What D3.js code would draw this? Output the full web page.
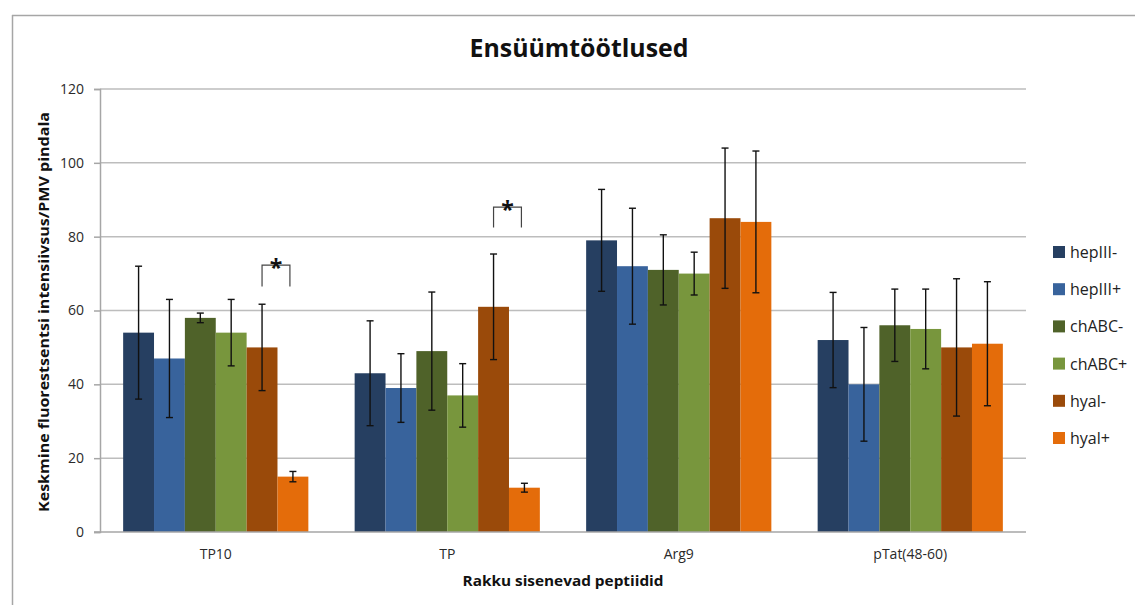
<!DOCTYPE html>
<html>
<head>
<meta charset="utf-8">
<script src="https://cdn.jsdelivr.net/npm/d3@7"></script>
<style>
  html, body { margin: 0; padding: 0; background: #fff; }
  svg { display: block; font-family: "Open Sans", "Noto Sans", sans-serif; }
</style>
</head>
<body>
<svg id="chart" width="1135" height="605"></svg>
<script>
// ---- data ----
const title = "Ensüümtöötlused";
const xTitle = "Rakku sisenevad peptiidid";
const yTitle = "Keskmine fluorestsentsi intensiivsus/PMV pindala";
const categories = ["TP10", "TP", "Arg9", "pTat(48-60)"];
const seriesNames = ["hepIII-", "hepIII+", "chABC-", "chABC+", "hyal-", "hyal+"];
const seriesColors = ["#263f61", "#38639c", "#4f6229", "#78963d", "#9a4a0a", "#e46c0a"];
const hepIIIminus = [54, 43, 79, 52];
const hepIIIplus  = [47, 39, 72, 40];
const chABCminus  = [58, 49, 71, 56];
const chABCplus   = [54, 37, 70, 55];
const hyalMinus   = [50, 61, 85, 50];
const hyalPlus    = [15, 12, 84, 51];
const errHepIIIminus = [18, 14.2, 13.8, 12.9];
const errHepIIIplus  = [16, 9.3, 15.7, 15.4];
const errChABCminus  = [1.3, 16, 9.5, 9.8];
const errChABCplus   = [9, 8.6, 5.8, 10.8];
const errHyalMinus   = [11.7, 14.3, 19, 18.6];
const errHyalPlus    = [1.4, 1.2, 19.2, 16.8];
const yTicks = [0, 20, 40, 60, 80, 100, 120];
// significance brackets: category, top value, leg-bottom value
const sigCategories = ["TP10", "TP"];
const sigTop = [72.3, 88];
const sigLegBottom = [66.5, 82.5];

const values = [hepIIIminus, hepIIIplus, chABCminus, chABCplus, hyalMinus, hyalPlus];
const errors = [errHepIIIminus, errHepIIIplus, errChABCminus, errChABCplus, errHyalMinus, errHyalPlus];

// ---- layout ----
const svg = d3.select("#chart");
const plot = { left: 100, right: 1026, top: 89, bottom: 532 };

// frame (top & left border of chart area)
svg.append("line").attr("x1", 12).attr("x2", 1135).attr("y1", 15.5).attr("y2", 15.5)
  .attr("stroke", "#a6a6a6").attr("stroke-width", 1.5);
svg.append("line").attr("x1", 12.5).attr("x2", 12.5).attr("y1", 15).attr("y2", 605)
  .attr("stroke", "#a6a6a6").attr("stroke-width", 1.5);

const x0 = d3.scaleBand().domain(categories).range([plot.left, plot.right]).paddingInner(0.2).paddingOuter(0.1);
const x1 = d3.scaleBand().domain(seriesNames).range([0, x0.bandwidth()]).padding(0);
const y = d3.scaleLinear().domain([0, 120]).range([plot.bottom, plot.top]);

// gridlines
svg.append("g").selectAll("line").data(yTicks.filter(t => t > 0)).join("line")
  .attr("x1", plot.left).attr("x2", plot.right)
  .attr("y1", d => y(d)).attr("y2", d => y(d))
  .attr("stroke", "#bdbdbd").attr("stroke-width", 1.5);

// y axis
const yAxis = svg.append("g").attr("transform", `translate(${plot.left},0)`)
  .call(d3.axisLeft(y).tickValues(yTicks).tickSize(6).tickPadding(10));
yAxis.select(".domain").attr("stroke", "#a6a6a6").attr("stroke-width", 1.5);
yAxis.selectAll(".tick line").attr("stroke", "#a6a6a6").attr("stroke-width", 1.5);
yAxis.selectAll(".tick text").attr("font-size", 14).attr("fill", "#2a2a2a")
  .attr("font-family", "'Open Sans', sans-serif");

// bars
const groups = svg.append("g").selectAll("g").data(categories).join("g")
  .attr("transform", d => `translate(${x0(d)},0)`);

groups.selectAll("rect").data((c, ci) => seriesNames.map((s, si) => ({ s, si, v: values[si][ci] })))
  .join("rect")
  .attr("x", d => x1(d.s)).attr("width", x1.bandwidth())
  .attr("y", d => y(d.v)).attr("height", d => y(0) - y(d.v))
  .attr("fill", d => seriesColors[d.si]);

// error bars
const capW = 3.5;
groups.each(function (c, ci) {
  const g = d3.select(this);
  seriesNames.forEach((s, si) => {
    const cx = x1(s) + x1.bandwidth() / 2;
    const v = values[si][ci], e = errors[si][ci];
    const eg = g.append("g").attr("stroke", "#111").attr("stroke-width", 1.4);
    eg.append("line").attr("x1", cx).attr("x2", cx).attr("y1", y(v + e)).attr("y2", y(v - e));
    eg.append("line").attr("x1", cx - capW).attr("x2", cx + capW).attr("y1", y(v + e)).attr("y2", y(v + e));
    eg.append("line").attr("x1", cx - capW).attr("x2", cx + capW).attr("y1", y(v - e)).attr("y2", y(v - e));
  });
});

// x axis line
svg.append("line").attr("x1", plot.left - 6).attr("x2", plot.right)
  .attr("y1", y(0)).attr("y2", y(0)).attr("stroke", "#a6a6a6").attr("stroke-width", 1.5);

// category labels
svg.append("g").selectAll("text").data(categories).join("text")
  .attr("x", d => x0(d) + x0.bandwidth() / 2).attr("y", 559)
  .attr("text-anchor", "middle").attr("font-size", 14).attr("fill", "#2a2a2a")
  .text(d => d);

// significance brackets
sigCategories.forEach((c, i) => {
  const xa = x0(c) + x1("hyal-") + x1.bandwidth() / 2;
  const xb = x0(c) + x1("hyal+") + x1.bandwidth() / 2 - 3;
  const yt = y(sigTop[i]), yb = y(sigLegBottom[i]);
  svg.append("path")
    .attr("d", `M${xa},${yb}V${yt}H${xb}V${yb}`)
    .attr("fill", "none").attr("stroke", "#444").attr("stroke-width", 1.2);
  svg.append("text").attr("x", (xa + xb) / 2).attr("y", yt + 11)
    .attr("text-anchor", "middle").attr("font-size", 23).attr("font-weight", "bold")
    .attr("fill", "#111").text("*");
});

// title
svg.append("text").attr("x", 579).attr("y", 57).attr("text-anchor", "middle")
  .attr("font-size", 25).attr("font-weight", "bold").attr("fill", "#111")
  .attr("textLength", 219).attr("lengthAdjust", "spacingAndGlyphs")
  .text(title);

// axis titles
svg.append("text").attr("x", 563).attr("y", 586).attr("text-anchor", "middle")
  .attr("font-size", 15).attr("font-weight", "bold").attr("fill", "#111")
  .attr("textLength", 201).attr("lengthAdjust", "spacingAndGlyphs")
  .text(xTitle);
svg.append("text").attr("transform", "translate(49,312) rotate(-90)")
  .attr("text-anchor", "middle").attr("font-size", 15).attr("font-weight", "bold").attr("fill", "#111")
  .attr("textLength", 400).attr("lengthAdjust", "spacingAndGlyphs")
  .text(yTitle);

// legend
const legend = svg.append("g").selectAll("g").data(seriesNames).join("g")
  .attr("transform", (d, i) => `translate(1053,${252 + i * 37.2})`);
legend.append("rect").attr("x", 0).attr("y", -6).attr("width", 12).attr("height", 12)
  .attr("fill", (d, i) => seriesColors[i]);
legend.append("text").attr("x", 17).attr("y", 6).attr("font-size", 16).attr("fill", "#222")
  .text(d => d);
</script>
</body>
</html>
